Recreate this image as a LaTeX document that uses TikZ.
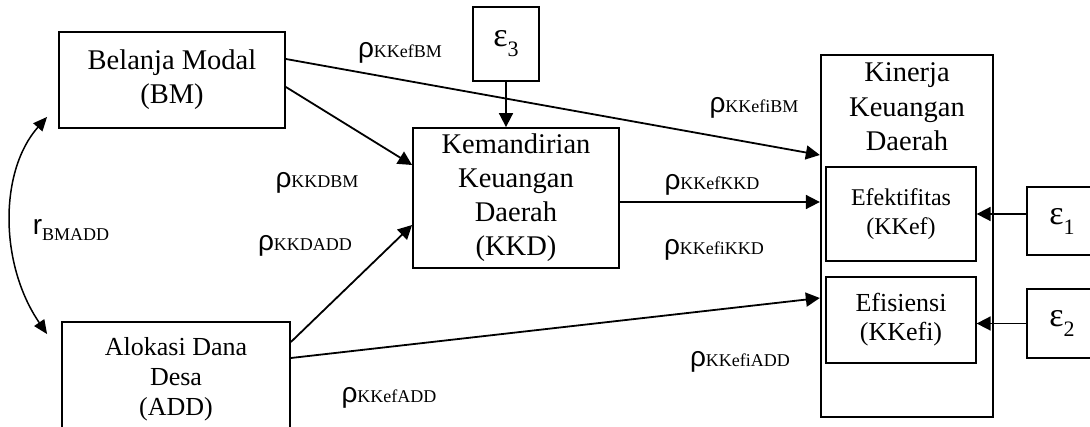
\documentclass[tikz,border=0pt]{standalone}
\usepackage{fontspec}
\setmainfont{Liberation Serif}
\newfontfamily\rhofont{Liberation Sans}
\usetikzlibrary{arrows.meta,positioning,calc}

\newcommand{\koef}[1]{{\rhofont\fontsize{28}{28}\selectfont ρ}{\fontsize{18}{18}\selectfont #1}}
\newcommand{\korel}[1]{{\rhofont\fontsize{28}{28}\selectfont r}\raisebox{-6pt}{\fontsize{18}{18}\selectfont #1}}
\newcommand{\galat}[1]{{\fontsize{34}{34}\selectfont ε}\raisebox{-10pt}{\fontsize{22}{22}\selectfont #1}}

\begin{document}
\begin{tikzpicture}[x=1pt, y=-1pt,
	box/.style={draw, rectangle, line width=1.8pt, align=center, inner sep=0pt, font=\fontsize{28.5}{34}\selectfont},
	subbox/.style={draw, rectangle, line width=1.3pt, align=center, inner sep=0pt, minimum width=150pt},
	epsbox/.style={draw, rectangle, line width=1.2pt, inner sep=0pt},
	arrow/.style={-{Triangle[length=14pt,width=14pt]}, line width=1.8pt},
	coef/.style={inner sep=0pt}]
	\useasboundingbox (0,0) rectangle (1090,427);
	
	% variabel
	\node[box, minimum width=226pt, minimum height=96pt] (bm) at (172,80) {Belanja Modal\\(BM)};
	\node[box, minimum width=206pt, minimum height=140pt] (kkd) at (516,198) {Kemandirian\\Keuangan\\Daerah\\(KKD)};
	\node[box, font=\fontsize{26}{30}\selectfont, minimum width=228pt, minimum height=114pt] (add) at (176,379) {Alokasi Dana\\Desa\\(ADD)};
	\node[box, minimum width=172.5pt, minimum height=362pt,
		label={[name=kkeujudul, anchor=north, align=center, yshift=-5pt, font=\fontsize{28.5}{34.5}\selectfont]north:Kinerja\\Keuangan\\Daerah}] (kkeu) at (907,236) {};
	\node[subbox, font=\fontsize{24}{29}\selectfont, minimum height=94pt] (efek) at (901,214) {Efektifitas\\(KKef)};
	\node[subbox, font=\fontsize{26}{29}\selectfont, minimum height=86pt] (efis) at (901,320) {Efisiensi\\(KKefi)};
	
	% galat
	\node[epsbox, minimum width=66pt, minimum height=74pt] (eps3) at (506,44) {\galat{3}};
	\node[epsbox, minimum width=70pt, minimum height=68pt] (eps1) at (1062,221) {\galat{1}};
	\node[epsbox, minimum width=70pt, minimum height=69pt] (eps2) at (1062,323.5) {\galat{2}};
	
	% koefisien jalur
	\node[coef] (pKKefBM) at (400,53) {\koef{KKefBM}};
	\node[coef] (pKKDBM) at (317,183) {\koef{KKDBM}};
	\node[coef] (rBMADD) at (71,230) {\korel{BMADD}};
	\node[coef] (pKKDADD) at (305,246) {\koef{KKDADD}};
	\node[coef] (pKKefADD) at (389,398) {\koef{KKefADD}};
	\node[coef] (pKKefiBM) at (754,108) {\koef{KKefiBM}};
	\node[coef] (pKKefKKD) at (712,185) {\koef{KKefKKD}};
	\node[coef] (pKKefiKKD) at (714,250) {\koef{KKefiKKD}};
	\node[coef] (pKKefiADD) at (740,362) {\koef{KKefiADD}};
	
	% jalur
	\draw[arrow] ([yshift=21pt]bm.east) -- ([yshift=81pt]kkeu.west);
	\draw[arrow] ([yshift=-7pt]bm.east) -- ([yshift=33pt]kkd.west);
	\draw[arrow] (eps3.south) -- (eps3.south |- kkd.north);
	\draw[arrow] ([yshift=-4pt]kkd.east) -- ([yshift=-4pt]kkd.east -| kkeu.west);
	\draw[arrow] ([yshift=37pt]add.east) -- ([yshift=-27pt]kkd.west);
	\draw[arrow] ([yshift=21pt]add.east) -- ([yshift=-62pt]kkeu.west);
	\draw[arrow] (eps1.west |- efek.east) -- (efek.east);
	\draw[arrow] (eps2.west) -- (eps2.west -| efis.east);
	\draw[{Triangle[length=14pt,width=12pt]}-{Triangle[length=14pt,width=12pt]}, line width=1.5pt]
		([shift={(-11,-12)}]bm.south west) .. controls +(-48,54) and +(-48,-70) .. ([shift={(-14,13)}]add.north west);
\end{tikzpicture}
\end{document}
